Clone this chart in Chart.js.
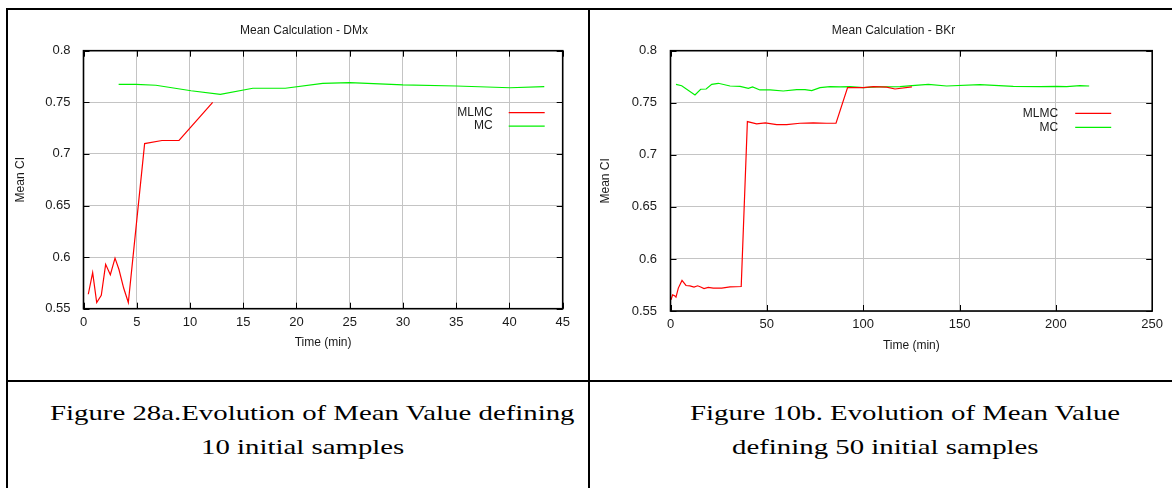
<!DOCTYPE html>
<html>
<head>
<meta charset="utf-8">
<script src="https://cdn.jsdelivr.net/npm/chart.js@4.4.1/dist/chart.umd.min.js"></script>
<style>
    html, body { margin: 0; padding: 0; background: #fff; }
    body { width: 1172px; height: 488px; position: relative; overflow: hidden; }
    .rule { position: absolute; background: #000; }
    .cell { position: absolute; }
    .cap {
        position: absolute;
        font-family: 'Liberation Serif', 'Times New Roman', serif;
        font-size: 22px;
        line-height: 26px;
        color: #000;
        white-space: nowrap;
        transform: scaleX(1.31);
        transform-origin: 0 0;
    }
</style>
</head>
<body>
<!-- table lines -->
<div class="rule" style="left:6px;top:8px;width:1166px;height:2px"></div>
<div class="rule" style="left:6px;top:8px;width:2px;height:480px"></div>
<div class="rule" style="left:588px;top:8px;width:2px;height:480px"></div>
<div class="rule" style="left:6px;top:380px;width:1166px;height:2px"></div>

<div class="cell" style="left:10px;top:10px"><canvas id="chartDMx" width="576" height="368"></canvas></div>
<div class="cell" style="left:592px;top:10px"><canvas id="chartBKr" width="578" height="368"></canvas></div>

<div class="cap" style="left:50px;top:400px">Figure 28a.Evolution of Mean Value defining</div>
<div class="cap" style="left:201px;top:434px">10 initial samples</div>
<div class="cap" style="left:690px;top:400px">Figure 10b. Evolution of Mean Value</div>
<div class="cap" style="left:732px;top:434px">defining 50 initial samples</div>

<script>
// DMx - 10 initial samples
const dmxMlmcTime = [0.45, 0.86, 1.24, 1.67, 2.08, 2.52, 2.96, 3.33, 3.77, 4.21, 5.74, 7.37, 8.97, 12.13];
const dmxMlmcMean = [0.564, 0.585, 0.556, 0.563, 0.593, 0.583, 0.599, 0.588, 0.570, 0.556, 0.710, 0.713, 0.713, 0.750];
const dmxMcTime = [3.30, 4.93, 6.8, 10.1, 12.85, 15.9, 18.95, 22.46, 25.0, 30.0, 35.0, 40.05, 43.27];
const dmxMcMean = [0.7674, 0.7674, 0.7665, 0.7612, 0.7577, 0.7636, 0.7636, 0.7684, 0.769, 0.7668, 0.7658, 0.7641, 0.7651];

// BKr - 50 initial samples
const bkrMlmcTime = [0.26, 1.1, 2.16, 2.85, 4.06, 5.97, 8.04, 10.1, 12.2, 14.1, 15.66, 17.4, 19.6, 22.2, 26.6, 30.9, 36.7,
    39.9, 44.7, 49.2, 55.1, 60.3, 67.2, 74.1, 81.0, 85.9, 91.9, 100.1, 105.3, 112.2, 116.5, 125.3];
const bkrMlmcMean = [0.5607, 0.5655, 0.5646, 0.5633, 0.572, 0.5793, 0.5745, 0.5742, 0.573, 0.5742, 0.573, 0.5716, 0.5726, 0.572, 0.572, 0.5732, 0.5735,
    0.7319, 0.7297, 0.7306, 0.729, 0.729, 0.7303, 0.7306, 0.7303, 0.7303, 0.7645, 0.7645, 0.7655, 0.765, 0.7632, 0.7652];
const bkrMcTime = [2.85, 5.8, 12.7, 15.66, 18.5, 21.4, 24.8, 30.9, 36.1, 40.4, 42.6, 46.4, 51.7, 58.5, 65.5, 69.8, 73.3,
    77.6, 82.8, 88, 93.1, 100.1, 107, 119.1, 125.3, 133.8, 143.3, 160.6, 177.9, 191.7, 200.4, 205.6, 212.5, 217.3];
const bkrMcMean = [0.7677, 0.7664, 0.7575, 0.763, 0.7632, 0.7677, 0.7687, 0.7661, 0.7658, 0.7639, 0.7652, 0.7623, 0.7623, 0.7613, 0.7626, 0.7626, 0.7616,
    0.7645, 0.7655, 0.7652, 0.7655, 0.7645, 0.7652, 0.7655, 0.7664, 0.7677, 0.7661, 0.7674, 0.7658, 0.7655, 0.7658, 0.7655, 0.7664, 0.7661];

const seriesLabels = ['MLMC', 'MC'];
const seriesColors = ['#ff0000', '#00f000'];
const yMin = 0.55, yMax = 0.8, yStep = 0.05;

const FONT = "'Liberation Sans', Arial, sans-serif";
Chart.defaults.font.family = FONT;
Chart.defaults.color = '#1a1a1a';

const toPoints = (xs, ys) => xs.map((x, i) => ({ x: x, y: ys[i] }));

// gnuplot style box with inward ticks
const framePlugin = {
    id: 'frame',
    afterDraw(chart) {
        const { ctx, chartArea: a, scales: { x, y } } = chart;
        ctx.save();
        ctx.strokeStyle = '#000';
        ctx.lineWidth = 1;
        ctx.beginPath();
        x.ticks.forEach(t => {
            const px = Math.round(x.getPixelForValue(t.value)) + 0.5;
            ctx.moveTo(px, a.bottom); ctx.lineTo(px, a.bottom - 6);
            ctx.moveTo(px, a.top); ctx.lineTo(px, a.top + 6);
        });
        y.ticks.forEach(t => {
            const py = Math.round(y.getPixelForValue(t.value)) + 0.5;
            ctx.moveTo(a.left, py); ctx.lineTo(a.left + 6, py);
            ctx.moveTo(a.right, py); ctx.lineTo(a.right - 6, py);
        });
        ctx.stroke();
        ctx.lineWidth = 1.6;
        ctx.strokeRect(a.left, a.top, a.right - a.left, a.bottom - a.top);
        ctx.restore();
    }
};

// key at the top right: label then line sample
const keyPlugin = {
    id: 'key',
    afterDraw(chart, args, opts) {
        const { ctx, chartArea: a } = chart;
        ctx.save();
        ctx.font = '12px ' + FONT;
        ctx.textAlign = 'right';
        ctx.textBaseline = 'middle';
        chart.data.datasets.forEach((ds, i) => {
            const yy = a.top + opts.top + i * opts.row;
            ctx.fillStyle = '#1a1a1a';
            ctx.fillText(ds.label, a.right - opts.textRight, yy);
            ctx.strokeStyle = ds.borderColor;
            ctx.lineWidth = 1.2;
            ctx.beginPath();
            ctx.moveTo(a.right - opts.lineFrom, yy);
            ctx.lineTo(a.right - opts.lineTo, yy);
            ctx.stroke();
        });
        ctx.restore();
    }
};

function makeChart(id, title, series, g) {
    const ctx = document.getElementById(id).getContext('2d');
    return new Chart(ctx, {
        type: 'line',
        data: {
            datasets: series.map((s, i) => ({
                label: seriesLabels[i],
                data: toPoints(s[0], s[1]),
                borderColor: seriesColors[i],
                borderWidth: 1.2,
                pointRadius: 0,
                tension: 0,
                fill: false
            }))
        },
        plugins: [framePlugin, keyPlugin],
        options: {
            responsive: false,
            animation: false,
            devicePixelRatio: 1,
            layout: { padding: { left: g.padLeft, right: g.padRight, top: 0, bottom: 0 } },
            plugins: {
                legend: { display: false },
                tooltip: { enabled: false },
                title: {
                    display: true,
                    text: title,
                    color: '#1a1a1a',
                    font: { size: 12, weight: 'normal' },
                    padding: { top: 13.8, bottom: 12.5 }
                },
                key: g.key
            },
            scales: {
                x: {
                    type: 'linear',
                    min: 0,
                    max: g.xMax,
                    ticks: { stepSize: g.xStep, padding: 6, font: { size: 13 }, maxRotation: 0 },
                    grid: { color: '#c4c4c4', drawTicks: false },
                    border: { display: false },
                    title: { display: true, text: 'Time (min)', font: { size: 12 }, padding: { top: 0, bottom: g.xTitlePad } },
                    afterFit: s => { s.height = g.xHeight; }
                },
                y: {
                    min: yMin,
                    max: yMax,
                    ticks: { stepSize: yStep, padding: g.yTickPad, font: { size: 13 }, callback: v => String(+v.toFixed(2)) },
                    grid: { color: '#c4c4c4', drawTicks: false },
                    border: { display: false },
                    title: { display: true, text: 'Mean CI', font: { size: 12 }, padding: { top: g.yTitlePad, bottom: 0 } },
                    afterFit: s => { s.width = g.yWidth; }
                },
                // empty spacer on the right so the title sits where gnuplot put it
                y2: {
                    position: 'right',
                    min: yMin,
                    max: yMax,
                    ticks: { display: false },
                    grid: { display: false },
                    border: { display: false },
                    afterFit: s => { s.width = g.y2Width; }
                }
            }
        }
    });
}

makeChart('chartDMx', 'Mean Calculation - DMx',
    [[dmxMlmcTime, dmxMlmcMean], [dmxMcTime, dmxMcMean]],
    { padLeft: 28.5, padRight: 16.5, yWidth: 45, y2Width: 6.8, xHeight: 69.3, xMax: 45, xStep: 5,
      yTickPad: 13, yTitlePad: -25, xTitlePad: 28.1,
      key: { top: 62, row: 13.4, textRight: 70, lineFrom: 54, lineTo: 18 } });

makeChart('chartBKr', 'Mean Calculation - BKr',
    [[bkrMlmcTime, bkrMlmcMean], [bkrMcTime, bkrMcMean]],
    { padLeft: 33.5, padRight: 8.5, yWidth: 45, y2Width: 9.3, xHeight: 67, xMax: 250, xStep: 50,
      yTickPad: 13.5, yTitlePad: -27.2, xTitlePad: 24.8,
      key: { top: 62.6, row: 14, textRight: 94, lineFrom: 77, lineTo: 41 } });
</script>
</body>
</html>
